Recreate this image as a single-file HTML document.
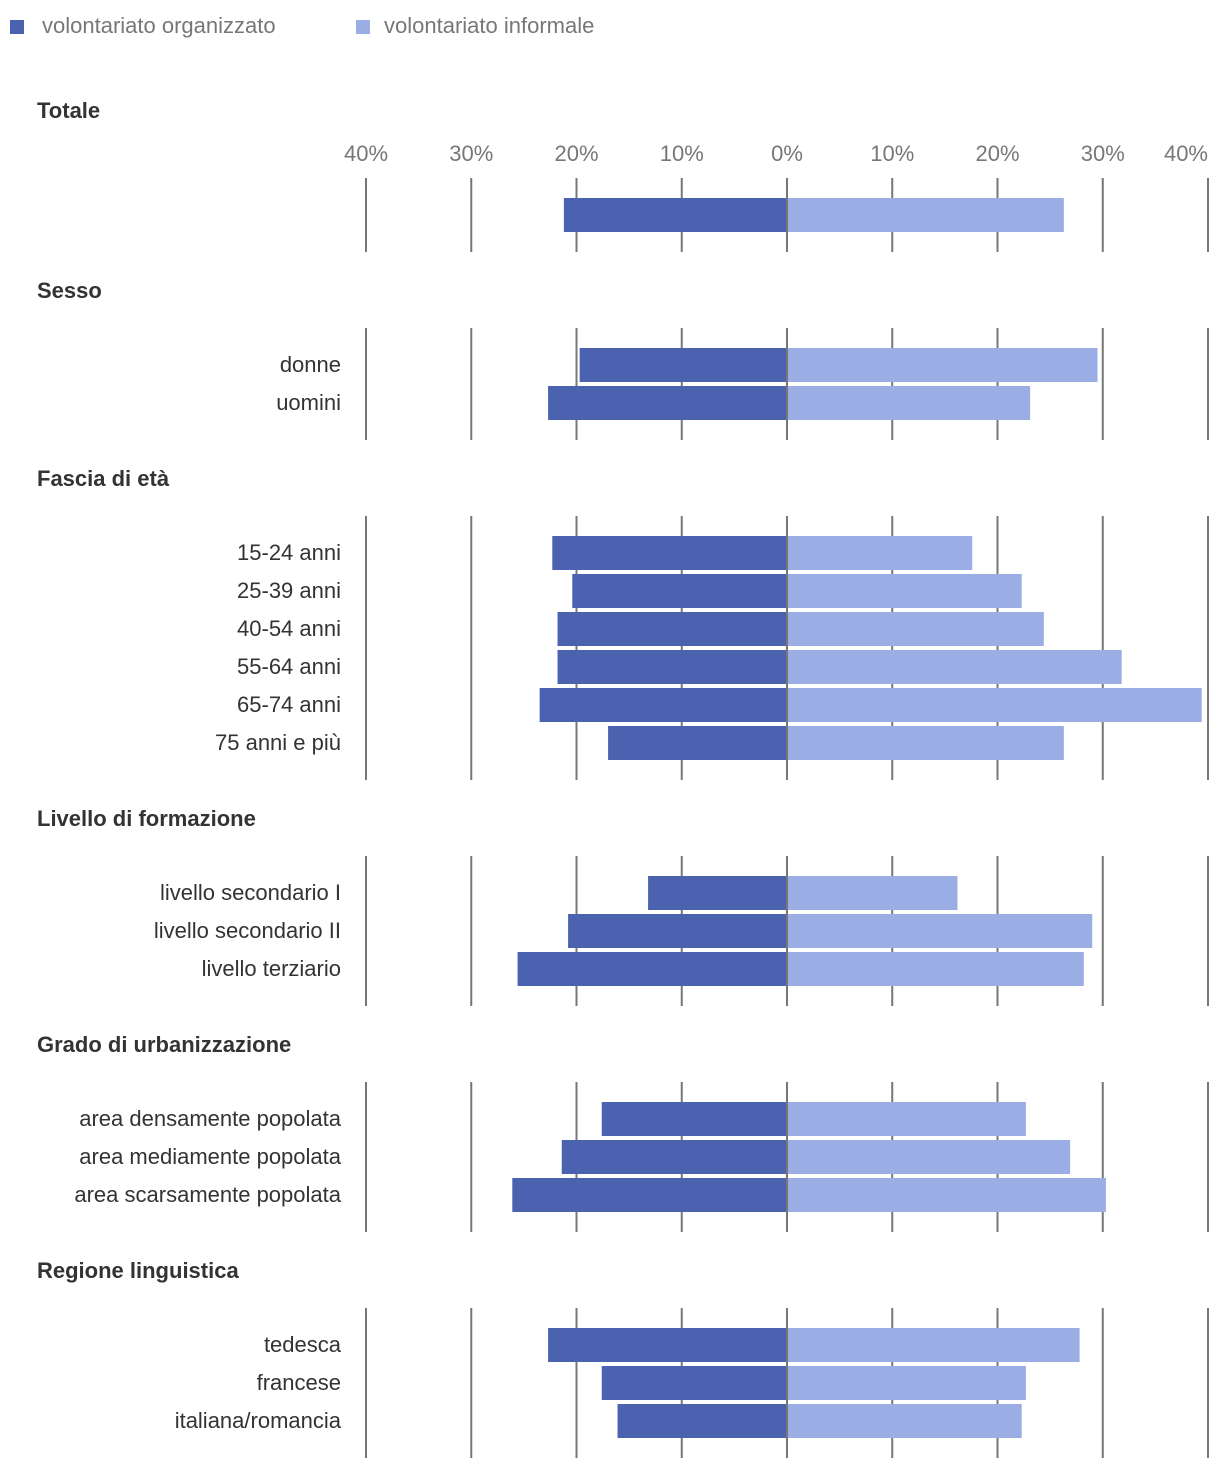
<!DOCTYPE html>
<html><head><meta charset="utf-8">
<style>
html,body{margin:0;padding:0;background:#fff;}
svg{display:block;font-family:"Liberation Sans",sans-serif;}
</style></head>
<body>
<svg id="chart" width="1220" height="1470">
  <g>
    <rect x="10" y="20" width="14" height="14" fill="#4a62b0"/>
    <text x="42" y="33" font-size="22" fill="#777">volontariato organizzato</text>
    <rect x="356" y="20" width="14" height="14" fill="#9badE5"/>
    <text x="384" y="33" font-size="22" fill="#777">volontariato informale</text>
  </g>
</svg>
<script>
const sectionTitles = ["Totale","Sesso","Fascia di età","Livello di formazione","Grado di urbanizzazione","Regione linguistica"];
const sectionCategories = [
  [""],
  ["donne","uomini"],
  ["15-24 anni","25-39 anni","40-54 anni","55-64 anni","65-74 anni","75 anni e più"],
  ["livello secondario I","livello secondario II","livello terziario"],
  ["area densamente popolata","area mediamente popolata","area scarsamente popolata"],
  ["tedesca","francese","italiana/romancia"]
];
const organizedValues = [
  [21.2],
  [19.7,22.7],
  [22.3,20.4,21.8,21.8,23.5,17.0],
  [13.2,20.8,25.6],
  [17.6,21.4,26.1],
  [22.7,17.6,16.1]
];
const informalValues = [
  [26.3],
  [29.5,23.1],
  [17.6,22.3,24.4,31.8,39.4,26.3],
  [16.2,29.0,28.2],
  [22.7,26.9,30.3],
  [27.8,22.7,22.3]
];
const tickValues = [-40,-30,-20,-10,0,10,20,30,40];
const tickLabels = ["40%","30%","20%","10%","0%","10%","20%","30%","40%"];

const NS = "http://www.w3.org/2000/svg";
const svg = document.getElementById('chart');
const x0 = 787, pxPerPct = 10.525;
function xScale(v){ return x0 + v * pxPerPct; }
function mk(tag, attrs, parent){
  const e = document.createElementNS(NS, tag);
  for (const k in attrs) e.setAttribute(k, attrs[k]);
  (parent||svg).appendChild(e);
  return e;
}
const barH = 34, step = 38;
let y = 110;
sectionTitles.forEach((title, si) => {
  const g = mk('g', {});
  
  
  const t = mk('text', {x: 37, y: y + 8, 'font-size': 22, 'font-weight': 'bold', fill: '#333'}, g);
  
  
  t.textContent = title;
  const cats = sectionCategories[si];
  const gridTop = y + (si === 0 ? 68 : 38);
  const firstBar = gridTop + 20;
  const gridBottom = firstBar + (cats.length - 1) * step + barH + 20;
  if (si === 0) {
    tickValues.forEach((tv, ti) => {
      const last = ti === tickValues.length - 1;
      const tl = mk('text', {x: last ? 1208 : xScale(tv), y: y + 51, 'font-size': 22, fill: '#777', 'text-anchor': last ? 'end' : 'middle'}, g);
      
      
      tl.textContent = tickLabels[ti];
    });
  }
  tickValues.forEach(tv => {
    if (tv === 0) return;
    const l = mk('line', {x1: xScale(tv), x2: xScale(tv), y1: gridTop, y2: gridBottom, stroke: '#777', 'stroke-width': 2}, g);
    
    
  });
  cats.forEach((c, ci) => {
    const by = firstBar + ci * step;
    const ov = organizedValues[si][ci], iv = informalValues[si][ci];
    const r1 = mk('rect', {x: xScale(-ov), y: by, width: xScale(0) - xScale(-ov), height: barH, fill: '#4a62b0'}, g);
    
    
    const r2 = mk('rect', {x: xScale(0), y: by, width: xScale(iv) - xScale(0), height: barH, fill: '#9badE5'}, g);
    
    
    if (c) {
      const lb = mk('text', {x: 341, y: by + 24, 'font-size': 22, fill: '#333', 'text-anchor': 'end'}, g);
      
      
      lb.textContent = c;
    }
  });
  const z = mk('line', {x1: xScale(0), x2: xScale(0), y1: gridTop, y2: gridBottom, stroke: '#777', 'stroke-width': 2}, g);
  
  
  y = gridBottom + 38;
});
</script>
</body></html>
